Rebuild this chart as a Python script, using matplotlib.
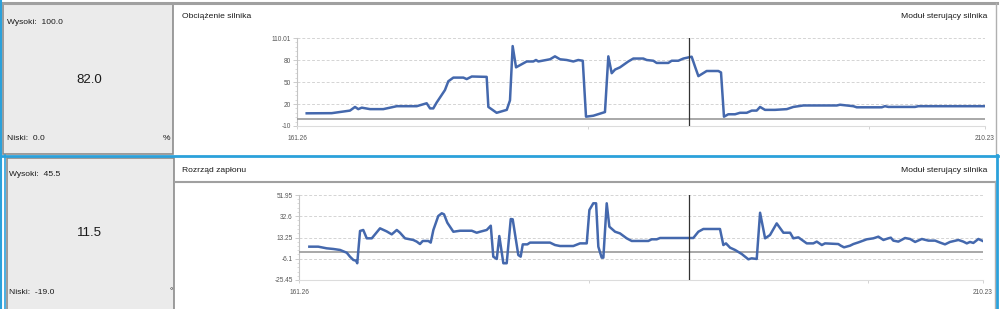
import numpy as np
import matplotlib
matplotlib.use("Agg")
import matplotlib.pyplot as plt
from matplotlib.patches import Rectangle

plt.rcParams['font.family'] = ['Liberation Sans', 'DejaVu Sans']

# time axis (s)
t_min, t_max = 161.26, 210.23
cursor_t = 189.15
time_marks = [182, 202]

# Obciążenie silnika (%)
load_t = [161.95, 163.73, 165.03, 165.39, 165.62, 165.87, 166.46, 167.40, 168.36, 169.78,
          170.49, 170.73, 170.96, 171.20, 171.79, 172.03, 172.39, 173.10, 173.34, 173.70,
          174.76, 174.88, 175.47, 176.19, 176.42, 176.61, 176.85, 177.61, 178.08, 178.27,
          178.44, 179.27, 179.62, 179.98, 180.46, 180.93, 181.28, 181.60, 181.83, 182.35,
          183.18, 183.42, 183.66, 183.90, 184.25, 184.84, 185.20, 185.91, 186.15, 186.62,
          186.86, 187.69, 187.93, 188.40, 188.76, 189.35, 189.59, 189.83, 190.42, 191.25,
          191.44, 191.65, 191.96, 192.44, 192.79, 193.27, 193.63, 193.98, 194.22, 194.57,
          195.28, 196.12, 196.59, 197.30, 199.68, 199.91, 200.86, 201.10, 202.88, 203.11,
          203.35, 205.25, 205.48, 210.23]
load_v = [7.3, 7.5, 11, 16, 13, 15, 13, 13, 17, 17,
          21, 14, 14, 22, 39, 51, 56, 56, 54, 57.5,
          57, 16, 8, 12, 25, 99, 70, 78, 78, 80,
          78, 81, 85, 81, 80, 78, 80, 79, 2.7, 4,
          9, 85, 62, 67, 70, 78, 82, 82, 80, 79,
          76, 76, 79, 79, 82, 84.5, 71, 58, 65, 65,
          63, 2.7, 6, 6, 8, 8, 11, 11, 16, 12,
          12, 13, 16, 18, 18, 19, 17, 15.5, 15.5, 17,
          16, 16, 17, 17]
load_lim = (-10, 110.01)
load_ticks = [-10, 20, 50, 80, 110.01]

# Rozrząd zapłonu (°)
timing_t = [162.00, 162.64, 163.24, 163.72, 164.20, 164.68, 164.91, 165.15, 165.34, 165.43,
            165.63, 165.86, 166.11, 166.47, 167.06, 167.54, 167.90, 168.26, 168.49, 168.85,
            169.44, 169.69, 169.92, 170.12, 170.52, 170.69, 170.88, 171.23, 171.48, 171.64,
            171.88, 172.31, 172.79, 173.63, 173.98, 174.22, 174.70, 174.99, 175.17, 175.42,
            175.60, 175.89, 176.13, 176.42, 176.56, 176.96, 177.13, 177.28, 177.61, 177.80,
            179.23, 179.59, 179.95, 180.90, 181.14, 181.38, 181.86, 182.05, 182.33, 182.53,
            182.69, 182.93, 183.05, 183.29, 183.48, 183.89, 184.24, 184.72, 185.08, 186.27,
            186.51, 186.87, 187.11, 189.49, 189.85, 190.21, 191.40, 191.64, 191.83, 192.12,
            192.48, 192.96, 193.43, 193.67, 194.03, 194.27, 194.63, 194.98, 195.46, 195.94,
            196.42, 196.65, 197.01, 197.61, 198.08, 198.33, 198.69, 198.92, 199.87, 200.05,
            200.28, 200.71, 200.95, 201.31, 201.91, 202.38, 202.74, 203.10, 203.45, 203.63,
            203.81, 204.17, 204.65, 205.01, 205.37, 205.85, 206.32, 206.80, 207.16, 207.51,
            207.87, 208.47, 208.82, 209.07, 209.30, 209.54, 209.90, 210.21]
timing_v = [4.9, 4.9, 3.4, 2.8, 1.9, -0.6, -4.2, -7.2, -7.9, -10.2,
            19.2, 20.1, 12.5, 12.5, 21.6, 18.8, 16.1, 20.1, 17.6, 12.5,
            11.0, 9.5, 7.3, 10.1, 10.1, 8.6, 20.1, 32.8, 35.3, 34.4,
            26.7, 18.5, 19.4, 19.4, 17.6, 18.5, 20.1, 24.0, -4.2, -6.3,
            14.6, -10.2, -10.2, 30.1, 29.8, -2.7, -4.2, 7.0, 7.0, 8.6,
            8.6, 6.4, 5.5, 5.5, 6.7, 7.9, 7.9, 38.3, 44.4, 44.4,
            4.9, -5.1, -5.1, 44.4, 23.1, 18.5, 17.0, 12.5, 10.1, 10.1,
            11.6, 11.6, 12.8, 12.8, 18.5, 21.0, 21.0, 6.4, 7.9, 4.0,
            1.9, -1.8, -6.6, -5.7, -6.3, 35.8, 12.5, 15.5, 26.1, 17.6,
            17.6, 12.5, 13.4, 7.9, 7.9, 9.5, 6.4, 7.9, 7.3, 5.8,
            4.3, 5.8, 7.3, 8.8, 11.6, 12.5, 14.0, 11.0, 12.5, 13.1,
            10.4, 9.5, 12.8, 11.9, 9.2, 11.9, 10.4, 10.4, 8.6, 7.0,
            9.2, 11.0, 9.5, 7.9, 9.2, 8.3, 11.9, 10.1]
timing_lim = (-25.45, 51.95)
timing_ticks = [-25.45, -6.1, 13.25, 32.6, 51.95]

# gauge boxes: title, high, low, current value, unit
titles = ['Obciążenie silnika', 'Rozrząd zapłonu']
module = 'Moduł sterujący silnika'
highs = [100.0, 45.5]
lows = [0.0, -19.0]
currents = [82.0, 11.5]
units = ['%', '°']

LINE = '#4468ad'
PANEL = '#ebebeb'
BLUE = '#2ba1db'
W, H = 1000, 309


def draw_chart(ax, t, v, ylim, yticks):
    ax.set_facecolor('none')
    ax.plot(t, v, color=LINE, lw=1.8, solid_joinstyle='round', zorder=4)
    ax.set_xlim(t_min, t_max)
    ax.set_ylim(*ylim)
    ax.set_yticks(yticks)
    ax.set_yticklabels([f'{y:g}' for y in yticks])
    step = yticks[1] - yticks[0]
    ax.set_yticks(np.arange(ylim[0], ylim[1], step / 5), minor=True)
    ax.set_xticks([t_min, t_max])
    ax.set_xticklabels([f'{t_min:.2f}', f'{t_max:.2f}'])
    ax.set_xticks(time_marks, minor=True)
    ax.grid(axis='y', which='major', ls=(0, (3, 2)), color='#d4d4d4', lw=0.7)
    ax.axvline(t_max, ls=(0, (3, 2)), color='#d4d4d4', lw=0.7)
    ax.axhline(0, color='#9a9a9a', lw=1.2, zorder=3)
    ax.axvline(cursor_t, color='#333333', lw=0.9, zorder=5)
    for s in ['top', 'right']:
        ax.spines[s].set_visible(False)
    ax.spines['left'].set_color('#c4c4c4')
    ax.spines['bottom'].set_color('#dcdcdc')
    ax.tick_params(axis='y', which='major', labelsize=4.7, labelcolor='#555555',
                   length=3, width=0.6, color='#c4c4c4', pad=1.5)
    ax.tick_params(axis='y', which='minor', length=1.8, width=0.5, color='#cccccc')
    ax.tick_params(axis='x', which='major', labelsize=4.7, labelcolor='#555555',
                   length=2.5, width=0.6, color='#cccccc', pad=4)
    ax.tick_params(axis='x', which='minor', length=2.5, width=0.6, color='#cccccc')


fig = plt.figure(figsize=(W / 100, H / 100), dpi=100)
fig.patch.set_facecolor('white')

bg = fig.add_axes([0, 0, 1, 1], zorder=-1)
bg.set_xlim(0, W)
bg.set_ylim(H, 0)
bg.axis('off')

# frames
bg.plot([0, 997], [2.5, 2.5], color='#a0a0a0', lw=2.2)
bg.plot([996, 996], [3, 155], color='#b0b0b0', lw=1)
bg.add_patch(Rectangle((3, 4), 170, 150, fc=PANEL, ec='#8c8c8c', lw=1.2))
bg.add_patch(Rectangle((7, 158), 167, 160, fc=PANEL, ec='#8c8c8c', lw=1.2))
bg.plot([175, 995], [181.5, 181.5], color='#a0a0a0', lw=1.5)
bg.plot([994.5, 994.5], [181, H], color='#b0b0b0', lw=1)
bg.plot([1, 1], [0, H], color=BLUE, lw=1.5)
bg.plot([4.5, 4.5], [155, H], color=BLUE, lw=1.2)
bg.plot([0, 997.5], [155.5, 155.5], color=BLUE, lw=2)
bg.plot([997, 997], [155, H], color=BLUE, lw=2)

# texts
txt = dict(fontsize=6.1, color='#1a1a1a', va='center')
title_y = [16, 171]
box_top = [22, 175]
box_mid = [80, 233]
box_bot = [138, 292]
box_x = [7, 9]
for i in range(2):
    bg.text(182, title_y[i], titles[i], ha='left', **txt)
    bg.text(987, title_y[i], module, ha='right', **txt)
    bg.text(box_x[i], box_top[i], f'Wysoki:  {highs[i]:.1f}', ha='left', **txt)
    bg.text(box_x[i], box_bot[i], f'Niski:  {lows[i]:.1f}', ha='left', **txt)
    bg.text(89, box_mid[i], f'{currents[i]:.1f}', ha='center', va='center',
            fontsize=9.5, color='#1a1a1a')
bg.text(170, box_bot[0], units[0], ha='right', **txt)
bg.text(173, box_bot[1], units[1], ha='right', **txt)

ax1 = fig.add_axes([297 / W, 1 - 126 / H, 688 / W, 88 / H])
draw_chart(ax1, load_t, load_v, load_lim, load_ticks)

ax2 = fig.add_axes([299 / W, 1 - 280 / H, 684 / W, 85 / H])
draw_chart(ax2, timing_t, timing_v, timing_lim, timing_ticks)

fig.savefig('out.png', dpi=100)
